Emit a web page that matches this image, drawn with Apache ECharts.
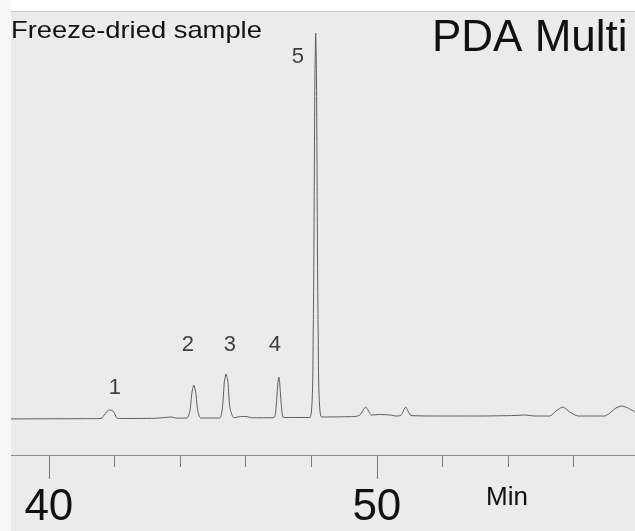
<!DOCTYPE html>
<html>
<head>
<meta charset="utf-8">
<script src="https://cdn.jsdelivr.net/npm/echarts@6/dist/echarts.min.js"></script>
<style>
  html, body { margin: 0; padding: 0; background: #ffffff; }
  #chart { width: 635px; height: 531px; }
</style>
</head>
<body>
<div id="chart"></div>
<script>
// retention time (min) and detector signal
const times = [
  38.51, 39.73, 40.95, 41.59, 41.71, 41.80, 41.89, 41.98, 42.07, 42.16,
  43.23, 43.54, 43.72, 43.87, 44.21, 44.30, 44.36, 44.42, 44.48, 44.54,
  44.63, 45.21, 45.29, 45.35, 45.40, 45.46, 45.52, 45.64, 45.85, 46.01,
  46.19, 46.86, 46.93, 46.98, 47.01, 47.04, 47.09, 47.16, 47.96, 48.06,
  48.11, 48.135, 48.16, 48.21, 48.31, 49.33, 49.48, 49.66, 49.84,
  50.09, 50.40, 50.58, 50.73, 50.88, 51.04, 51.92, 53.14, 54.21, 54.51,
  54.82, 55.27, 55.46, 55.67, 55.88, 56.13, 56.95, 57.10, 57.29, 57.47,
  57.65, 57.87
]
const signal = [
  1.0, 1.2, 1.3, 1.5, 6, 9.5, 10, 8, 2, 1.5,
  1.7, 2.5, 3, 2, 1.9, 9, 27, 35, 27, 9,
  2, 2, 12, 38, 46, 38, 12, 2.2, 3.5, 3.5,
  2.2, 2.4, 14, 36, 43, 36, 14, 2.5, 2.5, 90,
  340, 387, 340, 90, 3, 3.5, 5, 13, 5,
  5.5, 5, 4, 4.5, 13, 4.5, 4, 4, 4.5, 5,
  4, 4, 9, 13, 8, 4, 4, 7, 12, 14,
  12, 8
]

const peakNames = ['1', '2', '3', '4', '5']
const peakLabelTimes = [42.01, 44.24, 45.52, 46.89, 47.59]
const peakLabelLevels = [32, 75, 75, 75, 363]

const majorTicks = [40, 50]
const minorTicks = [42, 44, 46, 48, 52, 54, 56]

const chart = echarts.init(document.getElementById('chart'))

const fontFamily = '"Liberation Sans", Arial, sans-serif'

const option = {
  backgroundColor: '#ebebeb',
  animation: false,
  grid: {
    left: 0,
    right: 0,
    top: 20,
    bottom: 76,
  },
  xAxis: [
    {
      type: 'value',
      min: 38.51,
      max: 57.87,
      axisLine: { show: true, onZero: false, lineStyle: { color: '#8c8c8c', width: 1 } },
      axisTick: {
        show: true,
        customValues: majorTicks,
        length: 24,
        lineStyle: { color: '#7a7a7a', width: 1 },
      },
      axisLabel: {
        show: true,
        customValues: majorTicks,
        margin: 31,
        fontSize: 44,
        color: '#111',
        fontFamily: fontFamily,
      },
      splitLine: { show: false },
    },
    {
      type: 'value',
      min: 38.51,
      max: 57.87,
      position: 'bottom',
      offset: 0,
      axisLine: { show: false, onZero: false },
      axisTick: {
        show: true,
        customValues: minorTicks,
        length: 12,
        lineStyle: { color: '#7a7a7a', width: 1 },
      },
      axisLabel: { show: false },
      splitLine: { show: false },
    },
  ],
  yAxis: {
    type: 'value',
    min: -35,
    max: 400,
    show: false,
    splitLine: { show: false },
  },
  series: [
    {
      type: 'line',
      data: times.map((t, i) => [t, signal[i]]),
      showSymbol: false,
      smooth: 0.2,
      lineStyle: { color: '#5e5e5e', width: 1 },
    },
    {
      type: 'scatter',
      data: peakLabelTimes.map((t, i) => ({ value: [t, peakLabelLevels[i]], name: peakNames[i] })),
      symbolSize: 0,
      label: {
        show: true,
        position: 'inside',
        formatter: (p) => p.name,
        fontSize: 22,
        color: '#111',
        fontFamily: fontFamily,
      },
    },
  ],
  graphic: [
    // paper edge of the scan
    { type: 'rect', left: 0, top: 0, shape: { width: 635, height: 11 }, style: { fill: '#ffffff' }, z: 100 },
    { type: 'rect', left: 0, top: 0, shape: { width: 11, height: 531 }, style: { fill: '#f7f7f7' }, z: 100 },
    { type: 'line', shape: { x1: 11, y1: 11.5, x2: 635, y2: 11.5 }, style: { stroke: '#c4c4c4', lineWidth: 1 }, z: 100 },
    {
      type: 'text',
      left: 11,
      top: 19,
      scaleX: 1.14,
      style: { text: 'Freeze-dried sample', fontSize: 24, fill: '#111', fontFamily: fontFamily },
      z: 101,
    },
    {
      type: 'text',
      left: 432,
      top: 17,
      style: { text: 'PDA Multi', fontSize: 44, fill: '#111', fontFamily: fontFamily },
      z: 101,
    },
    {
      type: 'text',
      left: 486,
      top: 485,
      style: { text: 'Min', fontSize: 26, fill: '#111', fontFamily: fontFamily },
      z: 101,
    },
  ],
}

chart.setOption(option)

window.addEventListener('resize', () => {
  chart.resize()
})
</script>
</body>
</html>
